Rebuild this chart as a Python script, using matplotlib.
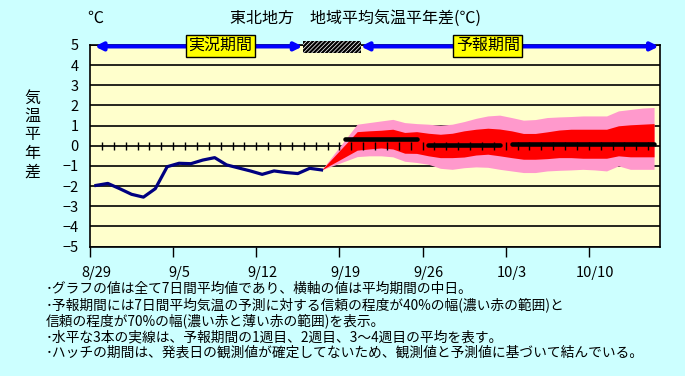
import numpy as np
import matplotlib
matplotlib.use('Agg')
import matplotlib.pyplot as plt
from matplotlib.patches import Rectangle

plt.rcParams['font.family'] = ['Noto Sans CJK JP', 'DejaVu Sans']
plt.rcParams['hatch.linewidth'] = 1.6

# 日付ラベル (8/29 = 0 日目, 1日ごと)
tick_labels = ['8/29', '9/5', '9/12', '9/19', '9/26', '10/3', '10/10']
n_days = 48

# 実況 (8/29 - 9/17)
obs = [-1.97, -1.87, -2.13, -2.41, -2.55, -2.13, -1.04, -0.87, -0.89, -0.71,
       -0.59, -0.95, -1.10, -1.25, -1.42, -1.25, -1.33, -1.38, -1.12, -1.20]

# 予報 (9/20 - 10/15), 70%範囲と40%範囲
fc_start = 22
pink_up = [1.07, 1.15, 1.23, 1.31, 1.15, 1.10, 1.07, 1.02, 1.07, 1.20, 1.36, 1.48, 1.52,
           1.40, 1.27, 1.30, 1.40, 1.43, 1.45, 1.48, 1.48, 1.48, 1.73, 1.80, 1.87, 1.90]
red_up = [0.70, 0.74, 0.77, 0.82, 0.66, 0.70, 0.62, 0.57, 0.62, 0.74, 0.82, 0.87, 0.83,
          0.74, 0.61, 0.61, 0.69, 0.78, 0.82, 0.82, 0.82, 0.82, 0.99, 1.04, 1.07, 1.10]
red_lo = [-0.22, -0.16, -0.11, -0.16, -0.37, -0.38, -0.50, -0.59, -0.59, -0.56, -0.46, -0.42, -0.50,
          -0.59, -0.67, -0.67, -0.64, -0.59, -0.59, -0.62, -0.62, -0.62, -0.50, -0.55, -0.55, -0.55]
pink_lo = [-0.54, -0.50, -0.50, -0.55, -0.77, -0.83, -0.92, -1.12, -1.17, -1.09, -1.05, -1.07, -1.17,
           -1.25, -1.33, -1.33, -1.25, -1.22, -1.20, -1.17, -1.20, -1.25, -1.00, -1.17, -1.17, -1.17]

# 週平均 (1週目, 2週目, 3~4週目)
week_start = [21, 28, 35]
week_end = [27, 34, 47]
week_val = [0.32, 0.05, 0.10]

fig = plt.figure(figsize=(6.85, 3.76), dpi=100, facecolor='#CCFFFF')
ax = fig.add_axes([90 / 685, 1 - 246.5 / 376, 570 / 685, 201.5 / 376])
ax.set_facecolor('#FFFFCC')
ax.set_xlim(-0.5, n_days - 0.5)
ax.set_ylim(-5, 5)

# 予報の帯 (実況の最後の点から結ぶ)
last = len(obs) - 1
fx = np.concatenate([[last], np.arange(fc_start, fc_start + len(pink_up))])
def link(v):
    return np.concatenate([[obs[-1]], v])
ax.fill_between(fx, link(pink_lo), link(pink_up), color='#FF99CC', lw=0, zorder=2)
ax.fill_between(fx, link(red_lo), link(red_up), color='#FF0000', lw=0, zorder=3)

# 実況の線
ax.plot(np.arange(len(obs)), obs, color='#000080', lw=2.3, solid_joinstyle='round', zorder=4)

# 0線上の日ごとの目盛
bounds = np.arange(0.5, n_days - 1, 1.0)
ax.plot(bounds, np.zeros_like(bounds), '|', color='black', ms=6, mew=1.0, zorder=5)

# 週平均の線
for s, e, v in zip(week_start, week_end, week_val):
    ax.plot([s, e], [v, v], color='black', lw=3.3, solid_capstyle='round', zorder=6)

# 軸
ax.set_yticks(range(-5, 6))
ax.grid(axis='y', color='black', lw=1.2)
ax.set_axisbelow(True)
ax.tick_params(axis='y', length=0, pad=8, labelsize=10.5)
week_idx = np.arange(0, 43, 7)
ax.set_xticks(week_idx - 0.5)
ax.set_xticklabels([])
ax.set_xticks(week_idx, minor=True)
ax.set_xticklabels(tick_labels, minor=True)
ax.tick_params(axis='x', which='major', length=7, width=1, direction='out')
ax.tick_params(axis='x', which='minor', length=0, pad=14, labelsize=10.5)
for sp in ax.spines.values():
    sp.set_color('black')
    sp.set_linewidth(1.2)

# 実況期間・予報期間の矢印
arr = dict(arrowstyle='<|-|>', color='#0000FF', lw=3, mutation_scale=11, shrinkA=0, shrinkB=0)
ax.annotate('', xy=(-0.1, 4.93), xytext=(17.4, 4.93), arrowprops=arr, annotation_clip=False, zorder=7)
ax.annotate('', xy=(22.3, 4.93), xytext=(47.4, 4.93), arrowprops=arr, annotation_clip=False, zorder=7)
ax.add_patch(Rectangle((17.4, 4.6), 4.9, 0.6, facecolor='white', edgecolor='black',
                       hatch='////////', lw=0, clip_on=False, zorder=7))
box = dict(boxstyle='square,pad=0.15', facecolor='#FFFF00', edgecolor='black', lw=1)
ax.text(10.5, 4.97, '実況期間', ha='center', va='center', fontsize=11.5, bbox=box, zorder=8)
ax.text(33.0, 4.97, '予報期間', ha='center', va='center', fontsize=11.5, bbox=box, zorder=8)

# タイトル・単位・縦軸名
fig.text(355 / 685, 1 - 18 / 376, '東北地方　地域平均気温平年差(℃)', ha='center', va='center', fontsize=11.5)
fig.text(95 / 685, 1 - 18 / 376, '℃', ha='center', va='center', fontsize=11.5)
for i, ch in enumerate('気温平年差'):
    fig.text(32 / 685, 1 - (98 + 18.5 * i) / 376, ch, ha='center', va='center', fontsize=11.5)

# 注記
notes = ['･グラフの値は全て7日間平均値であり、横軸の値は平均期間の中日。',
         '･予報期間には7日間平均気温の予測に対する信頼の程度が40%の幅(濃い赤の範囲)と',
         '信頼の程度が70%の幅(濃い赤と薄い赤の範囲)を表示。',
         '･水平な3本の実線は、予報期間の1週目、2週目、3～4週目の平均を表す。',
         '･ハッチの期間は、発表日の観測値が確定してないため、観測値と予測値に基づいて結んでいる。']
for i, t in enumerate(notes):
    fig.text(46 / 685, 1 - (289 + 16 * i) / 376, t, ha='left', va='center', fontsize=9.9)

fig.savefig('out.png', dpi=100, facecolor=fig.get_facecolor())
